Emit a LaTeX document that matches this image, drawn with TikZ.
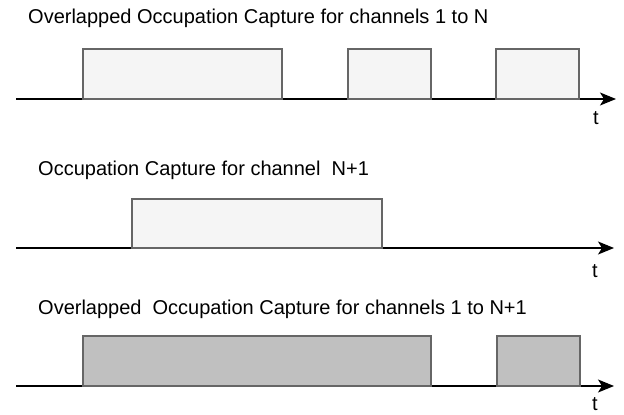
\documentclass[tikz,border=0pt]{standalone}
\usepackage{fontspec}
\setmainfont{Liberation Sans}
\usetikzlibrary{arrows.meta}
\definecolor{lightfill}{HTML}{F5F5F5}
\definecolor{darkfill}{HTML}{C0C0C0}
\definecolor{edgegray}{HTML}{666666}
\tikzset{
  axisline/.style={draw=black, line width=1.3pt, -{Stealth[length=16pt,width=13pt,inset=4pt]}},
  pulse/.style={draw=edgegray, line width=1.3pt, rectangle, inner sep=0pt, outer sep=0pt, anchor=south west},
  lightpulse/.style={pulse, fill=lightfill},
  darkpulse/.style={pulse, fill=darkfill},
  title/.style={anchor=west, inner sep=0pt, font=\fontsize{20}{23}\selectfont},
  tlabel/.style={inner sep=0pt, font=\fontsize{20}{23}\selectfont}
}
\begin{document}
\begin{tikzpicture}[x=1pt,y=-1pt]
\useasboundingbox (0,0) rectangle (624,415);
% Panel 1
\node[title] (t1) at (28,18) {Overlapped Occupation Capture for channels 1 to N};
\coordinate (a1s) at (16,99);
\coordinate (a1e) at (616,99);
\draw[axisline] (a1s) -- (a1e);
\node[lightpulse, minimum width=199pt, minimum height=50pt] (p11) at (83,99) {};
\node[lightpulse, minimum width=83pt, minimum height=50pt] (p12) at (348,99) {};
\node[lightpulse, minimum width=83pt, minimum height=50pt] (p13) at (496,99) {};
\node[tlabel] (tt1) at (596,118) {t};
% Panel 2
\node[title] (t2) at (38,170) {Occupation Capture for channel\ \ N+1};
\coordinate (a2s) at (16,248);
\coordinate (a2e) at (614,248);
\draw[axisline] (a2s) -- (a2e);
\node[lightpulse, minimum width=250pt, minimum height=49pt] (p21) at (132,248) {};
\node[tlabel] (tt2) at (595,271) {t};
% Panel 3
\node[title] (t3) at (38,309) {Overlapped\ \ Occupation Capture for channels 1 to N+1};
\coordinate (a3s) at (16,386);
\coordinate (a3e) at (614,386);
\draw[axisline] (a3s) -- (a3e);
\node[darkpulse, minimum width=348pt, minimum height=50pt] (p31) at (83,386) {};
\node[darkpulse, minimum width=83pt, minimum height=50pt] (p32) at (497,386) {};
\node[tlabel] (tt3) at (595,404) {t};
\end{tikzpicture}
\end{document}
